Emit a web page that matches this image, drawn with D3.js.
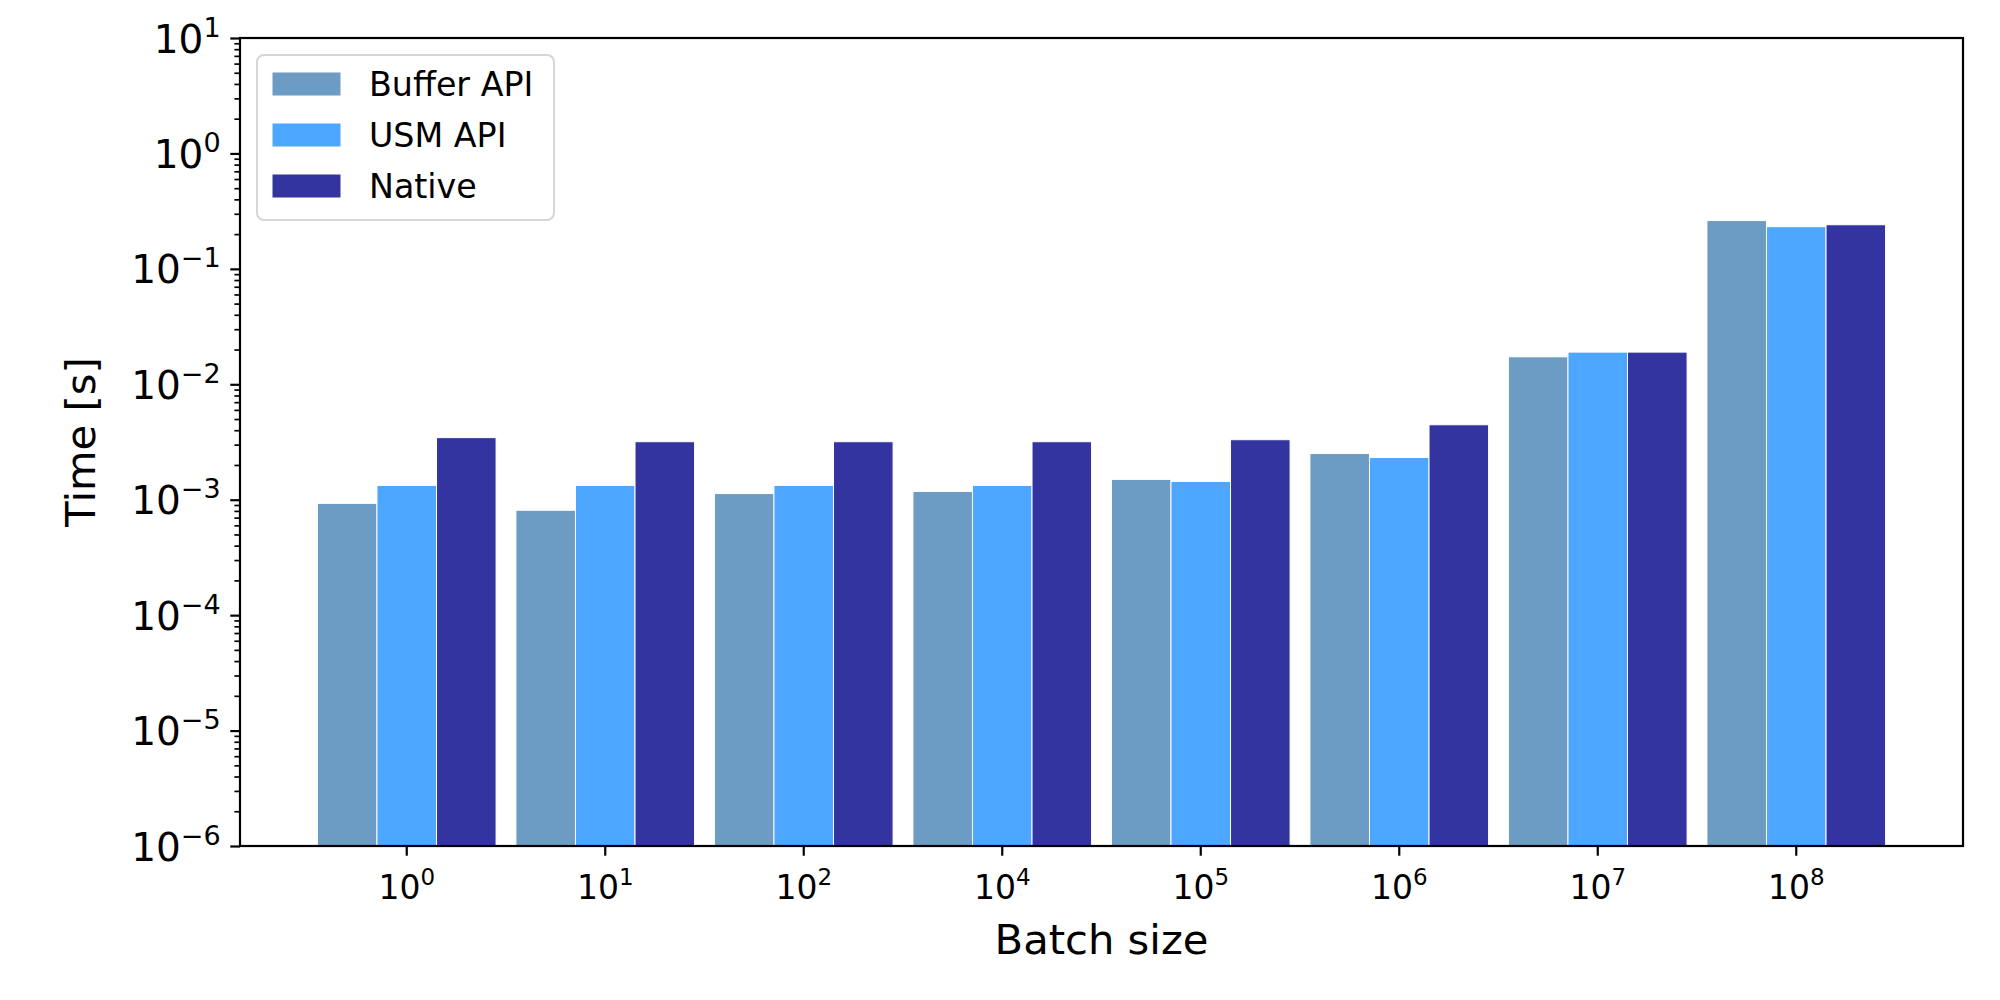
<!DOCTYPE html>
<html>
<head>
<meta charset="utf-8">
<script src="https://cdn.jsdelivr.net/npm/d3@7"></script>
<style>
    body { margin: 0; background: #fff; }
    text { font-family: "DejaVu Sans", sans-serif; }
</style>
</head>
<body>
<div id="wrapper"></div>
<script>
const batchExp = [0, 1, 2, 4, 5, 6, 7, 8];
const seriesNames = ["Buffer API", "USM API", "Native"];
const bufferTimes = [9.3e-4, 8.1e-4, 1.13e-3, 1.18e-3, 1.5e-3, 2.51e-3, 1.73e-2, 0.262];
const usmTimes = [1.33e-3, 1.33e-3, 1.33e-3, 1.33e-3, 1.44e-3, 2.32e-3, 1.9e-2, 0.232];
const nativeTimes = [3.45e-3, 3.18e-3, 3.18e-3, 3.18e-3, 3.31e-3, 4.46e-3, 1.9e-2, 0.241];
const yExp = [-6, -5, -4, -3, -2, -1, 0, 1];

function buildPlot(){
    const colors = ["#6c9bc3", "#4da6ff", "#3434a0"];
    const series = [bufferTimes, usmTimes, nativeTimes];

    var dimension = {
        width: 2000,
        height: 1000,
        margin: {
            left: 240,
            right: 37,
            top: 38,
            bottom: 154
        }
    };
    const left = dimension.margin.left;
    const right = dimension.width - dimension.margin.right;
    const top = dimension.margin.top;
    const bottom = dimension.height - dimension.margin.bottom;

    const svg = d3.select("#wrapper").append("svg")
        .attr("width", dimension.width)
        .attr("height", dimension.height);

    const x_scaler = d3.scaleBand()
        .domain(batchExp)
        .range([left, right])
        .paddingInner(0.1)
        .paddingOuter(0.39);
    const inner = d3.scaleBand()
        .domain(d3.range(series.length))
        .range([0, x_scaler.bandwidth()]);
    const y_scaler = d3.scaleLog()
        .domain([1e-6, 1e1])
        .range([bottom, top]);

    // bars
    series.forEach((vals, s) => {
        svg.append("g")
            .selectAll("rect")
            .data(vals)
            .join("rect")
            .attr("x", (d, i) => x_scaler(batchExp[i]) + inner(s))
            .attr("width", inner.bandwidth())
            .attr("y", d => y_scaler(d))
            .attr("height", d => y_scaler(1e-6) - y_scaler(d))
            .attr("fill", colors[s])
            .attr("stroke", "#fff")
            .attr("stroke-width", 1);
    });

    // minor y ticks
    const minorVals = [];
    yExp.slice(0, -1).forEach(e => {
        for (let k = 2; k <= 9; k++) minorVals.push(k * Math.pow(10, e));
    });
    svg.append("g")
        .attr("transform", `translate(${left},0)`)
        .call(d3.axisLeft(y_scaler).tickValues(minorVals).tickSize(5.6).tickFormat(""))
        .call(g => g.select(".domain").remove())
        .call(g => g.selectAll("line").attr("stroke", "#000").attr("stroke-width", 1.7));

    // major y ticks
    const yAxis = svg.append("g")
        .attr("transform", `translate(${left},0)`)
        .call(d3.axisLeft(y_scaler).tickValues(yExp.map(e => Math.pow(10, e))).tickSize(9.7).tickFormat(""))
        .call(g => g.select(".domain").remove())
        .call(g => g.selectAll("line").attr("stroke", "#000").attr("stroke-width", 2.2));
    yAxis.selectAll(".tick").each(function(d, i){
        const t = d3.select(this).append("text")
            .attr("x", -19.4)
            .attr("y", 14)
            .attr("fill", "#000")
            .attr("text-anchor", "end")
            .style("font-size", "39px");
        t.append("tspan").text("10");
        t.append("tspan")
            .attr("dy", -16)
            .style("font-size", "27px")
            .text(String(yExp[i]).replace("-", "\u2212"));
    });

    // x ticks
    const xAxis = svg.append("g")
        .attr("transform", `translate(0,${bottom})`)
        .call(d3.axisBottom(x_scaler).tickSize(9.7).tickFormat(""))
        .call(g => g.select(".domain").remove())
        .call(g => g.selectAll("line").attr("stroke", "#000").attr("stroke-width", 2.2));
    xAxis.selectAll(".tick").each(function(d){
        const t = d3.select(this).append("text")
            .attr("y", 53)
            .attr("fill", "#000")
            .attr("text-anchor", "middle")
            .style("font-size", "33px");
        t.append("tspan").text("10");
        t.append("tspan")
            .attr("dy", -14)
            .style("font-size", "23px")
            .text(d);
    });

    // frame
    svg.append("rect")
        .attr("x", left)
        .attr("y", top)
        .attr("width", right - left)
        .attr("height", bottom - top)
        .attr("fill", "none")
        .attr("stroke", "#000")
        .attr("stroke-width", 2.2);

    // axis labels
    svg.append("text")
        .attr("x", (left + right) / 2)
        .attr("y", 954)
        .attr("text-anchor", "middle")
        .style("font-size", "41.7px")
        .text("Batch size");
    svg.append("text")
        .attr("transform", `translate(95,${(top + bottom) / 2}) rotate(-90)`)
        .attr("text-anchor", "middle")
        .style("font-size", "41.7px")
        .text("Time [s]");

    // legend
    const legend = svg.append("g");
    legend.append("rect")
        .attr("x", 257)
        .attr("y", 55)
        .attr("width", 297)
        .attr("height", 165)
        .attr("rx", 7)
        .attr("fill", "#fff")
        .attr("fill-opacity", 0.8)
        .attr("stroke", "#d6d6d6")
        .attr("stroke-width", 2);
    seriesNames.forEach((name, i) => {
        const cy = 84 + i * 51;
        legend.append("rect")
            .attr("x", 272)
            .attr("y", cy - 12)
            .attr("width", 69)
            .attr("height", 24)
            .attr("fill", colors[i])
            .attr("stroke", "#fff")
            .attr("stroke-width", 1);
        legend.append("text")
            .attr("x", 369)
            .attr("y", cy + 12)
            .style("font-size", "33.3px")
            .text(name);
    });
}
buildPlot();
</script>
</body>
</html>
